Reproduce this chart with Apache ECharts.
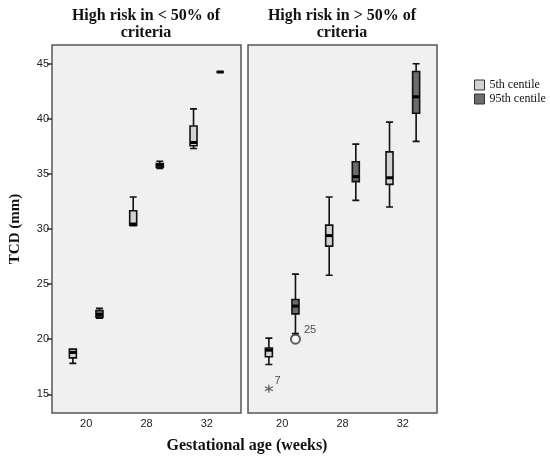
<!DOCTYPE html>
<html>
<head>
  <meta charset="utf-8">
  <title>TCD by gestational age</title>
  <script src="https://cdn.jsdelivr.net/npm/echarts@6/dist/echarts.min.js"></script>
  <style>
    html, body {
      margin: 0;
      padding: 0;
      background: #fff;
    }
  </style>
</head>
<body>
  <div id="main" style="width: 550px;height:462px;"></div>
  <script>
    var weeks = ['20', '28', '32'];
    var yTicks = [15, 20, 25, 30, 35, 40, 45];
    var seriesNames = ['5th centile', '95th centile'];

    // each box: [min, Q1, median, Q3, max]
    var lowRisk5th = [[17.8, 18.3, 18.8, 19.1, 19.1], [30.3, 30.35, 30.45, 31.65, 32.9], [37.3, 37.55, 37.85, 39.35, 40.9]];
    var lowRisk95th = [[21.9, 22.0, 22.25, 22.6, 22.8], [35.5, 35.6, 35.8, 35.95, 36.15], [44.25, 44.25, 44.25, 44.25, 44.25]];
    var highRisk5th = [[17.7, 18.4, 19.0, 19.2, 20.1], [25.8, 28.45, 29.4, 30.35, 32.9], [32.0, 34.05, 34.65, 37.0, 39.7]];
    var highRisk95th = [[20.5, 22.3, 23.0, 23.6, 25.9], [32.6, 34.3, 34.75, 36.1, 37.7], [37.95, 40.5, 42.0, 44.3, 45.0]];

    // outliers in the high-risk panel: [week, value], with case numbers
    var outlier5th = [['20', 15.5]];
    var outlier5thCase = ['7'];
    var outlier95th = [['20', 20.0]];
    var outlier95thCase = ['25'];

    // frame of each panel, and the plotting area inside it
    var FRAME_W = 189;
    var INSET = 4;
    var PANEL_W = FRAME_W - 2 * INSET;
    var TOP = 45, HEIGHT = 368;
    var frameLeft = [52, 248];

    var serif = 'Liberation Serif';
    var sans = 'Liberation Sans';
    var fills = ['#d2d2d2', '#6c6c6c'];

    // same offset rule as the boxplot layout (two series side by side)
    function boxOffset(k) {
      var bw = PANEL_W / weeks.length;
      var avail = bw * 0.8 - 2;
      var gap = avail / 2 * 0.3;
      var w = (avail - gap) / 2;
      return w / 2 - avail / 2 + k * (gap + w);
    }

    var chart = echarts.init(document.getElementById('main'));

    function xAxisFor(idx) {
      return {
        type: 'category',
        gridIndex: idx,
        data: weeks,
        axisLine: { show: false },
        axisTick: { alignWithLabel: true, length: 5, lineStyle: { color: '#333', width: 1.5 } },
        axisLabel: { fontFamily: sans, fontSize: 11, color: '#222', margin: 5 }
      };
    }

    function yAxisFor(idx, labels) {
      return {
        type: 'value',
        gridIndex: idx,
        offset: INSET,
        min: 13.3,
        max: 46.7,
        name: labels ? 'TCD (mm)' : '',
        nameLocation: 'middle',
        nameGap: 29,
        nameTextStyle: { fontFamily: serif, fontWeight: 'bold', fontSize: 15, color: '#111' },
        splitLine: { show: false },
        axisLine: { show: false },
        axisTick: { show: labels, customValues: yTicks, length: 5, lineStyle: { color: '#333', width: 1.5 } },
        axisLabel: { show: labels, customValues: yTicks, fontFamily: sans, fontSize: 11, color: '#222', margin: 3 }
      };
    }

    function boxSeries(idx, k, data) {
      return {
        name: seriesNames[k],
        type: 'boxplot',
        xAxisIndex: idx,
        yAxisIndex: idx,
        boxWidth: [7, 7],
        itemStyle: { color: fills[k], borderColor: '#111', borderWidth: 1.6 },
        emphasis: { disabled: true },
        data: data
      };
    }

    function medianSeries(idx, k, data) {
      return {
        type: 'custom',
        xAxisIndex: idx,
        yAxisIndex: idx,
        silent: true,
        z: 5,
        renderItem: function (params, api) {
          var p = api.coord([api.value(0), api.value(1)]);
          var o = boxOffset(k);
          return {
            type: 'line',
            shape: { x1: p[0] + o - 3.5, y1: p[1], x2: p[0] + o + 3.5, y2: p[1] },
            style: { stroke: '#000', lineWidth: 3 }
          };
        },
        data: data.map(function (d, i) { return [i, d[2]]; })
      };
    }

    function frame(left) {
      return {
        type: 'rect', z: -10,
        shape: { x: left, y: TOP, width: FRAME_W, height: HEIGHT },
        style: { fill: '#f0f0f0', stroke: '#555', lineWidth: 1.5 }
      };
    }

    var starPath = 'path://M5 0L5 10M0.7 2.5L9.3 7.5M0.7 7.5L9.3 2.5';

    var option = {
      animation: false,
      grid: [
        { left: frameLeft[0] + INSET, top: TOP, width: PANEL_W, height: HEIGHT },
        { left: frameLeft[1] + INSET, top: TOP, width: PANEL_W, height: HEIGHT }
      ],
      xAxis: [xAxisFor(0), xAxisFor(1)],
      yAxis: [yAxisFor(0, true), yAxisFor(1, false)],
      legend: {
        data: [
          { name: seriesNames[0], itemStyle: { color: fills[0] } },
          { name: seriesNames[1], itemStyle: { color: fills[1] } }
        ],
        orient: 'vertical',
        left: 474,
        top: 79,
        padding: 0,
        itemWidth: 10,
        itemHeight: 10,
        itemGap: 2,
        icon: 'rect',
        itemStyle: { borderColor: '#333', borderWidth: 1 },
        textStyle: { fontFamily: serif, fontSize: 12, color: '#111' }
      },
      graphic: [
        frame(frameLeft[0]),
        frame(frameLeft[1]),
        {
          type: 'text', x: 146, y: 7,
          style: { text: 'High risk in < 50% of\ncriteria', textAlign: 'center', lineHeight: 17, font: 'bold 16px "Liberation Serif"', fill: '#111' }
        },
        {
          type: 'text', x: 342, y: 7,
          style: { text: 'High risk in > 50% of\ncriteria', textAlign: 'center', lineHeight: 17, font: 'bold 16px "Liberation Serif"', fill: '#111' }
        },
        {
          type: 'text', x: 247, y: 438,
          style: { text: 'Gestational age (weeks)', textAlign: 'center', font: 'bold 16px "Liberation Serif"', fill: '#111' }
        }
      ],
      series: [
        boxSeries(0, 0, lowRisk5th),
        boxSeries(0, 1, lowRisk95th),
        boxSeries(1, 0, highRisk5th),
        boxSeries(1, 1, highRisk95th),
        medianSeries(0, 0, lowRisk5th),
        medianSeries(0, 1, lowRisk95th),
        medianSeries(1, 0, highRisk5th),
        medianSeries(1, 1, highRisk95th),
        {
          type: 'scatter',
          xAxisIndex: 1,
          yAxisIndex: 1,
          symbol: starPath,
          symbolSize: 8,
          symbolOffset: [boxOffset(0), 0],
          itemStyle: { color: 'transparent', borderColor: '#333', borderWidth: 1.2 },
          label: {
            show: true, position: 'right', distance: 1, offset: [0, -8],
            fontFamily: sans, fontSize: 11, color: '#222',
            formatter: function (p) { return outlier5thCase[p.dataIndex]; }
          },
          data: outlier5th
        },
        {
          type: 'scatter',
          xAxisIndex: 1,
          yAxisIndex: 1,
          symbol: 'emptyCircle',
          symbolSize: 9,
          symbolOffset: [boxOffset(1), 0],
          itemStyle: { color: '#333', borderColor: '#333', borderWidth: 1.2 },
          label: {
            show: true, position: 'right', distance: 3, offset: [0, -9],
            fontFamily: sans, fontSize: 11, color: '#222',
            formatter: function (p) { return outlier95thCase[p.dataIndex]; }
          },
          data: outlier95th
        }
      ]
    };

    chart.setOption(option);
  </script>
</body>
</html>
